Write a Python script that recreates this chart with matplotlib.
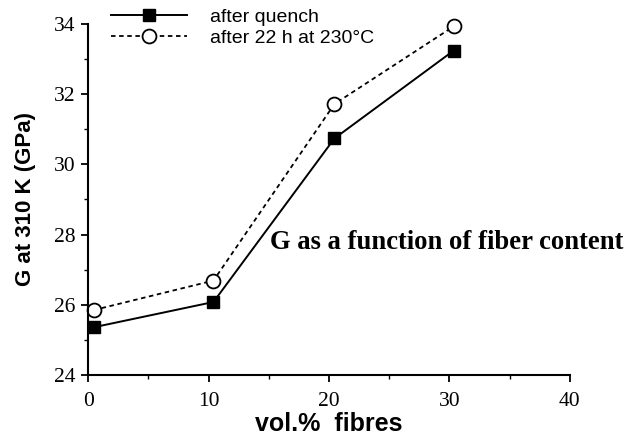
import matplotlib.pyplot as plt
from matplotlib.ticker import MultipleLocator

# values
fibres = [0.45, 10.4, 20.45, 30.35]
g_quench = [25.36, 26.08, 30.74, 33.24]
g_annealed = [25.85, 26.69, 31.72, 33.93]
labels = ["after quench", "after 22 h at 230°C"]

fig = plt.figure(figsize=(6.38, 4.4), dpi=100)
ax = fig.add_axes([0.1384, 0.1477, 0.7546, 0.7978])

ax.plot(fibres, g_quench, color='black', linewidth=1.4, marker='s',
        markersize=8.5, markerfacecolor='black', label=labels[0], clip_on=False)
ax.plot(fibres, g_annealed, color='black', linewidth=1.3, linestyle=(0, (2.5, 2)),
        marker='o', markersize=10, markerfacecolor='white', markeredgewidth=1.3,
        label=labels[1], clip_on=False)

ax.set_xlim(0, 40)
ax.set_ylim(24, 34)
ax.xaxis.set_major_locator(MultipleLocator(10))
ax.xaxis.set_minor_locator(MultipleLocator(5))
ax.yaxis.set_major_locator(MultipleLocator(2))
ax.yaxis.set_minor_locator(MultipleLocator(1))
ax.spines['top'].set_visible(False)
ax.spines['right'].set_visible(False)
for s in ['left', 'bottom']:
    ax.spines[s].set_linewidth(1.5)
ax.tick_params(which='major', direction='out', length=5, width=1.3)
ax.tick_params(which='minor', direction='out', length=3, width=1.0)
ax.tick_params(axis='x', pad=7)
ax.tick_params(axis='y', pad=4)
for lab in ax.get_xticklabels() + ax.get_yticklabels():
    lab.set_fontfamily('Liberation Serif')
    lab.set_fontsize(15.5)

ax.set_xlabel("vol.%  fibres", fontfamily='Liberation Sans', fontweight='bold',
              fontsize=18, labelpad=1)
ax.set_ylabel("G at 310 K (GPa)", fontfamily='Liberation Sans', fontweight='bold',
              fontsize=16, labelpad=13)

ax.text(0.423, 0.448, "G as a function of fiber content", transform=fig.transFigure,
        fontfamily='Liberation Serif', fontweight='bold', fontsize=19.2,
        ha='left', va='center')

ax.legend(loc='upper left', bbox_to_anchor=(111 / 638, 1 - 8 / 440),
          bbox_transform=fig.transFigure, frameon=False, borderpad=0,
          borderaxespad=0, handlelength=3.9, handletextpad=1.2,
          labelspacing=0.2, prop={'family': 'Liberation Sans', 'size': 14})

fig.savefig('out.png', dpi=100)
